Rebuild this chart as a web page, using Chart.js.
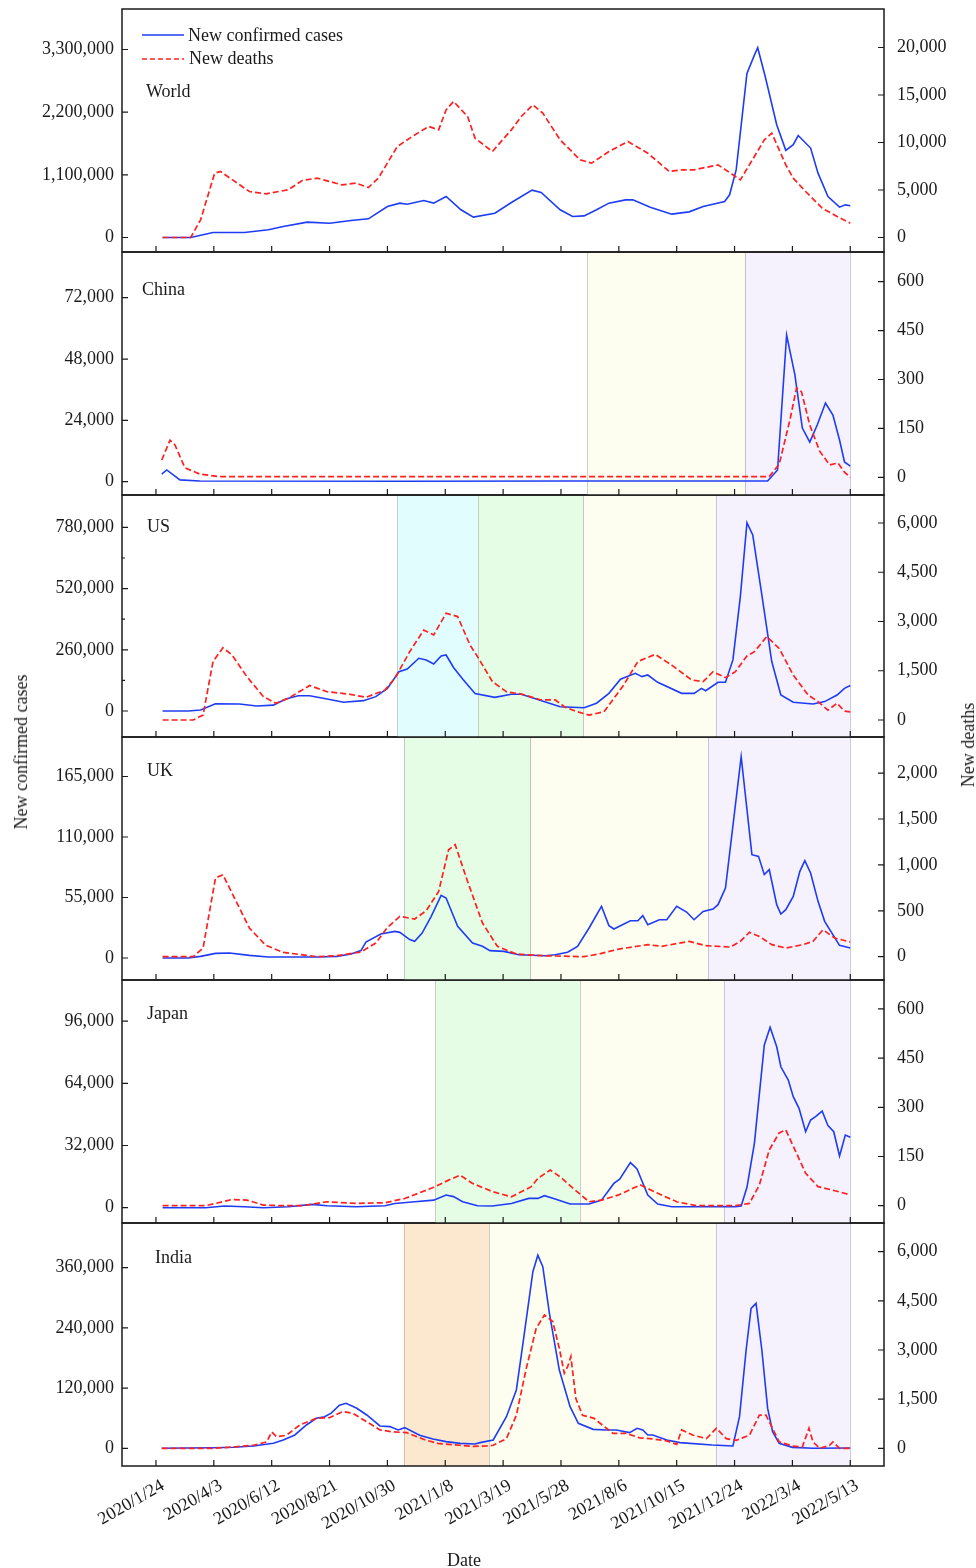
<!DOCTYPE html>
<html>
<head>
<meta charset="utf-8">
<script src="https://cdn.jsdelivr.net/npm/chart.js@4.4.0/dist/chart.umd.min.js"></script>
<style>
  body { margin: 0; background: #fff; width: 976px; height: 1568px; position: relative; overflow: hidden;
         font-family: 'Liberation Serif', 'Times New Roman', serif; }
  canvas { position: absolute; left: 0; }
  .lab { position: absolute; font-size: 18px; line-height: 18px; color: #1a1a1a; white-space: nowrap; }
</style>
</head>
<body>
<div class="lab" style="left:21px;top:752px;transform:translate(-50%,-50%) rotate(-90deg);">New confirmed cases</div>
<div class="lab" style="left:968px;top:745px;transform:translate(-50%,-50%) rotate(-90deg);">New deaths</div>
<div class="lab" style="left:447px;top:1551px;">Date</div>
<script>
// x axis: days since 2020/1/24
const xTickLabels = ['2020/1/24', '2020/4/3', '2020/6/12', '2020/8/21', '2020/10/30', '2021/1/8', '2021/3/19',
  '2021/5/28', '2021/8/6', '2021/10/15', '2021/12/24', '2022/3/4', '2022/5/13'];

// [day, value] weekly-ish points
const worldCases = [[8,0],[42,0],[69,88000],[107,88000],[136,135000],[154,193000],[183,270000],[210,250000],[236,298000],
  [257,328000],[280,544000],[295,603000],[304,585000],[324,650000],[336,603000],[351,720000],[369,486000],[384,357000],
  [410,427000],[430,614000],[455,831000],[466,790000],[489,486000],[504,369000],[518,380000],[533,486000],[548,603000],
  [568,661000],[577,661000],[598,532000],[624,410000],[645,450000],[662,544000],[688,632000],[694,749000],[702,1190000],
  [715,2880000],[724,3200000],[728,3330000],[737,2830000],[751,1980000],[762,1530000],[771,1630000],[777,1790000],
  [792,1570000],[801,1130000],[813,720000],[827,532000],[834,573000],[840,556000]];
const worldDeaths = [[8,0],[42,0],[54,1860],[71,6770],[78,6950],[113,4840],[133,4600],[160,5020],[177,6000],[195,6250],
  [225,5540],[242,5720],[257,5260],[269,6250],[292,9580],[310,10630],[330,11690],[342,11330],[351,13440],[360,14320],
  [377,12740],[386,10460],[407,9050],[430,11330],[442,12740],[456,13970],[468,13090],[489,10280],[513,8180],[527,7830],
  [548,9050],[571,10110],[595,8880],[621,6950],[636,7120],[651,7120],[680,7650],[698,6600],[707,6070],[724,8530],
  [736,10280],[745,10980],[762,7650],[771,6250],[786,4840],[806,3090],[824,2210],[840,1510]];

const chinaCases = [[7,3000],[13,4600],[29,700],[53,300],[300,200],[500,300],[740,300],[752,4600],[763,57400],[773,41800],
  [782,21000],[791,15500],[800,22200],[810,30800],[819,26100],[827,16300],[833,7700],[840,6100]];
const chinaDeaths = [[7,53],[17,114],[23,99],[35,29],[53,10],[77,2],[742,2],[754,40],[767,176],[775,274],[781,262],
  [791,160],[803,80],[815,38],[825,44],[833,16],[840,0]];

const usCases = [[8,0],[39,0],[54,4000],[72,31000],[101,30000],[122,21000],[142,25000],[157,51000],[172,65000],[186,65000],
  [207,51000],[227,37000],[251,44000],[266,61000],[280,96000],[294,167000],[304,178000],[318,224000],[327,217000],
  [336,200000],[345,234000],[351,238000],[360,185000],[371,136000],[386,74000],[410,58000],[430,71000],[442,71000],
  [460,51000],[489,18000],[518,14000],[533,33000],[548,75000],[562,135000],[580,160000],[588,146000],[595,153000],
  [607,122000],[636,75000],[651,75000],[660,96000],[665,86000],[680,122000],[689,122000],[698,217000],[707,486000],
  [715,800000],[722,748000],[733,493000],[745,210000],[756,68000],[771,37000],[795,30000],[809,40000],[824,68000],
  [833,96000],[840,108000]];
const usDeaths = [[8,0],[45,0],[57,150],[69,1780],[81,2200],[92,1980],[110,1320],[130,710],[145,510],[160,660],[186,1050],
  [207,860],[233,790],[254,690],[277,910],[289,1270],[307,2080],[324,2740],[336,2590],[351,3250],[365,3150],[380,2280],
  [389,1930],[407,1170],[424,860],[442,790],[466,610],[483,610],[495,390],[510,250],[524,150],[542,250],[566,1070],
  [583,1780],[604,2000],[624,1670],[648,1220],[662,1170],[674,1470],[689,1290],[701,1470],[715,1950],[724,2080],
  [739,2540],[754,2180],[771,1370],[789,760],[801,560],[813,300],[824,510],[833,270],[840,250]];

const ukCases = [[8,0],[39,0],[54,1500],[72,4200],[89,4500],[113,2400],[136,900],[195,900],[219,1500],[236,3600],[248,6700],
  [254,14500],[272,21800],[289,24200],[295,23300],[307,16700],[313,15200],[322,22700],[333,37900],[345,57000],[351,54500],
  [365,28800],[383,13600],[395,10600],[404,6700],[421,6000],[439,3000],[471,2100],[483,3000],[498,5200],[510,10600],
  [524,27300],[539,47000],[548,29400],[554,26400],[574,33900],[583,33900],[589,38500],[595,30300],[609,34800],[618,34800],
  [630,47000],[642,41800],[651,34800],[662,42400],[674,44500],[680,48500],[689,63600],[708,183000],[721,93900],[729,92400],
  [736,75800],[742,80300],[751,48500],[756,40000],[762,43900],[771,56000],[779,78800],[785,88500],[792,77300],[801,51500],
  [809,33300],[827,11500],[840,9100]];
const ukDeaths = [[8,0],[45,0],[57,94],[72,857],[81,893],[95,639],[113,312],[133,123],[154,47],[195,0],[219,11],[248,51],
  [266,149],[280,319],[295,439],[313,410],[327,501],[342,711],[354,1165],[362,1220],[377,820],[395,367],[413,113],[436,29],
  [466,11],[518,0],[536,29],[560,83],[595,131],[612,113],[645,167],[665,120],[695,105],[707,167],[718,265],[730,221],
  [745,131],[762,94],[783,131],[795,167],[807,294],[821,203],[840,160]];

const japanCases = [[8,0],[60,0],[83,860],[107,510],[130,0],[160,510],[189,1700],[207,1000],[242,500],[277,1000],[289,2200],
  [313,3100],[336,3900],[351,6500],[360,5700],[371,3100],[389,1000],[407,860],[430,2200],[451,4800],[462,4800],[470,6200],
  [483,4500],[501,1900],[524,1900],[539,3900],[554,12500],[561,14700],[574,23200],[582,19900],[595,6500],[607,1900],
  [624,510],[701,510],[708,860],[715,10500],[724,33100],[736,83700],[743,92800],[751,82800],[756,72500],[765,65700],
  [771,57100],[778,51100],[786,39100],[792,45100],[798,46800],[806,49700],[813,42200],[820,39100],[827,26600],[834,37400],
  [840,36200]];
const japanDeaths = [[8,0],[60,0],[72,7],[92,19],[110,17],[130,2],[154,0],[177,0],[207,12],[242,7],[277,9],[301,22],[336,56],
  [354,78],[368,93],[383,68],[407,43],[430,27],[454,58],[462,83],[477,109],[489,88],[507,48],[524,12],[539,17],[560,33],
  [577,53],[586,63],[607,38],[630,12],[654,0],[701,0],[718,7],[730,63],[742,170],[754,222],[762,231],[774,165],[786,99],
  [801,58],[818,48],[840,33]];

const indiaCases = [[7,0],[69,1000],[94,2000],[118,4600],[142,9900],[154,16600],[168,26600],[182,46500],[194,59800],
  [204,63000],[212,70000],[222,86000],[230,89700],[243,79700],[255,66400],[271,44500],[283,43200],[293,36500],[301,41200],
  [319,25900],[335,18600],[351,13300],[368,9900],[386,8600],[392,11300],[408,16600],[424,63000],[436,116000],[444,209000],
  [456,352000],[462,385000],[468,362000],[476,269000],[488,156000],[501,83000],[511,49800],[529,37800],[545,36500],
  [557,36500],[573,31200],[582,39900],[589,36500],[595,26600],[601,26600],[618,16600],[634,11300],[673,6600],[698,4600],
  [706,63000],[714,196000],[720,279000],[726,289000],[733,196000],[740,80000],[746,33200],[754,9900],[770,1900],[795,0],
  [840,700]];
const indiaDeaths = [[7,0],[69,0],[94,40],[118,93],[134,195],[140,500],[146,350],[158,400],[174,710],[194,915],[210,935],
  [226,1120],[238,1070],[255,810],[271,560],[287,500],[303,480],[327,245],[343,140],[368,93],[384,60],[400,70],[408,93],
  [424,295],[436,1010],[448,2440],[460,3660],[470,4070],[480,3870],[488,3050],[494,2290],[498,2490],[502,2800],[508,1520],
  [516,1010],[530,915],[540,710],[553,455],[569,455],[585,320],[601,285],[618,225],[630,120],[636,560],[650,400],[666,295],
  [678,610],[690,295],[702,245],[718,400],[730,1010],[738,1010],[746,610],[754,195],[770,70],[782,40],[790,610],[795,195],
  [803,0],[815,90],[819,195],[827,0],[840,0]];

// axis tick values
const worldCaseTicks = [0, 1100000, 2200000, 3300000];
const worldDeathTicks = [0, 5000, 10000, 15000, 20000];
const chinaCaseTicks = [0, 24000, 48000, 72000];
const chinaDeathTicks = [0, 150, 300, 450, 600];
const usCaseTicks = [0, 260000, 520000, 780000];
const usDeathTicks = [0, 1500, 3000, 4500, 6000];
const ukCaseTicks = [0, 55000, 110000, 165000];
const ukDeathTicks = [0, 500, 1000, 1500, 2000];
const japanCaseTicks = [0, 32000, 64000, 96000];
const japanDeathTicks = [0, 150, 300, 450, 600];
const indiaCaseTicks = [0, 120000, 240000, 360000];
const indiaDeathTicks = [0, 1500, 3000, 4500, 6000];

// shaded periods [start, end, colour key]
const chinaPeriods = [['2021/6/29', '2022/1/6', 'yellow'], ['2022/1/6', '2022/5/13', 'purple']];
const usPeriods = [['2020/11/11', '2021/2/16', 'cyan'], ['2021/2/16', '2021/6/24', 'green'],
  ['2021/6/24', '2021/12/1', 'yellow'], ['2021/12/1', '2022/5/13', 'purple']];
const ukPeriods = [['2020/11/19', '2021/4/21', 'green'], ['2021/4/21', '2021/11/22', 'yellow'], ['2021/11/22', '2022/5/13', 'purple']];
const japanPeriods = [['2020/12/27', '2021/6/20', 'green'], ['2021/6/20', '2021/12/11', 'yellow'], ['2021/12/11', '2022/5/13', 'purple']];
const indiaPeriods = [['2020/11/19', '2021/3/2', 'orange'], ['2021/3/2', '2021/12/1', 'yellow'], ['2021/12/1', '2022/5/13', 'purple']];

const periodColors = {
  cyan: 'rgb(226,253,253)', green: 'rgb(229,253,229)', yellow: 'rgb(253,253,240)',
  purple: 'rgb(245,241,253)', orange: 'rgb(252,231,207)'
};
const BLUE = '#1f3cf5', RED = '#ff2020', INK = '#1a1a1a';
const FONT = "'Liberation Serif', 'Times New Roman', serif";

function daysFrom(s) {
  const [y, m, d] = s.split('/').map(Number);
  return (Date.UTC(y, m - 1, d) - Date.UTC(2020, 0, 24)) / 86400000;
}

const panels = [
  { name: 'World', cases: worldCases, deaths: worldDeaths, lt: worldCaseTicks, rt: worldDeathTicks,
    lr: [-254500, 4010700], rr: [-1526, 24053], top: 9, bottom: 252, lx: 24, ly: 88, periods: [], legend: true },
  { name: 'China', cases: chinaCases, deaths: chinaDeaths, lt: chinaCaseTicks, rt: chinaDeathTicks,
    lr: [-5205, 89888], rr: [-54.3, 691], top: 252, bottom: 495, lx: 20, ly: 43, periods: chinaPeriods },
  { name: 'US', cases: usCases, deaths: usDeaths, lt: usCaseTicks, rt: usDeathTicks,
    lr: [-110458, 917647], rr: [-518, 6853], top: 495, bottom: 737, lx: 25, ly: 37, periods: usPeriods, minor: true },
  { name: 'UK', cases: ukCases, deaths: ukDeaths, lt: ukCaseTicks, rt: ukDeathTicks,
    lr: [-20000, 200909], rr: [-254, 2393], top: 737, bottom: 980, lx: 25, ly: 39, periods: ukPeriods },
  { name: 'Japan', cases: japanCases, deaths: japanDeaths, lt: japanCaseTicks, rt: japanDeathTicks,
    lr: [-7871, 117145], rr: [-52.7, 688], top: 980, bottom: 1223, lx: 25, ly: 39, periods: japanPeriods },
  { name: 'India', cases: indiaCases, deaths: indiaDeaths, lt: indiaCaseTicks, rt: indiaDeathTicks,
    lr: [-35282, 449103], rr: [-540, 6876], top: 1223, bottom: 1466, lx: 33, ly: 40, periods: indiaPeriods, last: true }
];

const panelDecor = {
  id: 'panelDecor',
  beforeDatasetsDraw(chart, args, o) {
    const { ctx, chartArea: a, scales: { x } } = chart;
    ctx.save();
    o.panel.periods.forEach(([s, e, key]) => {
      const x0 = x.getPixelForValue(daysFrom(s)), x1 = x.getPixelForValue(daysFrom(e));
      ctx.fillStyle = periodColors[key];
      ctx.fillRect(x0, a.top, x1 - x0, a.bottom - a.top);
      ctx.strokeStyle = 'rgba(120,120,120,0.35)';
      ctx.lineWidth = 1;
      [x0, x1].forEach(px => {
        ctx.beginPath();
        ctx.moveTo(Math.round(px) + 0.5, a.top);
        ctx.lineTo(Math.round(px) + 0.5, a.bottom);
        ctx.stroke();
      });
    });
    ctx.restore();
  },
  afterDraw(chart, args, o) {
    const { ctx, chartArea: a, scales: { x, y, y1 } } = chart;
    const p = o.panel;
    ctx.save();
    ctx.strokeStyle = INK;
    ctx.lineWidth = 1.5;
    ctx.strokeRect(a.left, a.top, a.right - a.left, a.bottom - a.top);

    // inward tick marks
    ctx.lineWidth = 1.2;
    ctx.beginPath();
    xTickLabels.forEach(l => {
      const px = x.getPixelForValue(daysFrom(l));
      ctx.moveTo(px, a.bottom); ctx.lineTo(px, a.bottom - 6);
    });
    p.lt.forEach(v => {
      const py = y.getPixelForValue(v);
      ctx.moveTo(a.left, py); ctx.lineTo(a.left + 6, py);
    });
    if (p.minor) {
      for (let i = 0; i < p.lt.length - 1; i++) {
        const py = y.getPixelForValue((p.lt[i] + p.lt[i + 1]) / 2);
        ctx.moveTo(a.left, py); ctx.lineTo(a.left + 3, py);
      }
    }
    p.rt.forEach(v => {
      const py = y1.getPixelForValue(v);
      ctx.moveTo(a.right, py); ctx.lineTo(a.right - 6, py);
    });
    ctx.stroke();

    // panel name
    ctx.fillStyle = INK;
    ctx.font = `18px ${FONT}`;
    ctx.textBaseline = 'alphabetic';
    ctx.fillText(p.name, a.left + p.lx, a.top + p.ly);

    if (p.legend) {
      const ds = chart.data.datasets;
      ctx.lineWidth = 1.6;
      ctx.strokeStyle = BLUE;
      ctx.beginPath(); ctx.moveTo(a.left + 20, a.top + 26); ctx.lineTo(a.left + 62, a.top + 26); ctx.stroke();
      ctx.fillText(ds[0].label, a.left + 66, a.top + 32);
      ctx.strokeStyle = RED;
      ctx.setLineDash([5, 3]);
      ctx.beginPath(); ctx.moveTo(a.left + 20, a.top + 50); ctx.lineTo(a.left + 62, a.top + 50); ctx.stroke();
      ctx.setLineDash([]);
      ctx.fillText(ds[1].label, a.left + 67, a.top + 55);
    }
    ctx.restore();
  }
};

// keep the plot frame exactly where the reference has it
function noPad(s) {
  s.paddingTop = 0; s.paddingBottom = 0; s.paddingLeft = 0; s.paddingRight = 0;
}

panels.forEach(p => {
  const padTop = 4;
  const canvasTop = p.top - padTop;
  const height = p.last ? 1568 - canvasTop : (p.bottom - p.top) + 8;
  const cv = document.createElement('canvas');
  cv.width = 976;
  cv.height = height;
  cv.style.top = canvasTop + 'px';
  cv.style.width = '976px';
  cv.style.height = height + 'px';
  document.body.insertBefore(cv, document.body.firstChild);

  const tickFont = { family: FONT, size: 18 };
  new Chart(cv.getContext('2d'), {
    type: 'line',
    data: {
      datasets: [
        { label: 'New confirmed cases', data: p.cases.map(([d, v]) => ({ x: d, y: v })), yAxisID: 'y',
          borderColor: BLUE, borderWidth: 1.6, pointRadius: 0, tension: 0, order: 1 },
        { label: 'New deaths', data: p.deaths.map(([d, v]) => ({ x: d, y: v })), yAxisID: 'y1',
          borderColor: RED, borderWidth: 1.7, borderDash: [6, 3], pointRadius: 0, tension: 0, order: 0 }
      ]
    },
    options: {
      responsive: false,
      animation: false,
      devicePixelRatio: 1,
      layout: { padding: { top: padTop, bottom: p.last ? 0 : 4, left: 0, right: 0 } },
      plugins: { legend: { display: false }, tooltip: { enabled: false }, panelDecor: { panel: p } },
      scales: {
        x: {
          type: 'linear', min: -41.1, max: 880.8, display: !!p.last,
          afterBuildTicks: s => { s.ticks = xTickLabels.map(l => ({ value: daysFrom(l) })); },
          afterFit: s => { noPad(s); if (p.last) s.height = height - padTop - (p.bottom - p.top); },
          ticks: { callback: (v, i) => xTickLabels[i], font: tickFont, color: INK, minRotation: 30, maxRotation: 30,
                   autoSkip: false, padding: 9, labelOffset: 7 },
          grid: { display: false, drawTicks: false }, border: { display: false }
        },
        y: {
          position: 'left', min: p.lr[0], max: p.lr[1],
          afterBuildTicks: s => { s.ticks = p.lt.map(v => ({ value: v })); },
          afterFit: s => { noPad(s); s.width = 122; },
          ticks: { callback: v => v.toLocaleString('en-US'), font: tickFont, color: INK, padding: 8 },
          grid: { display: false, drawTicks: false }, border: { display: false }
        },
        y1: {
          position: 'right', min: p.rr[0], max: p.rr[1],
          afterBuildTicks: s => { s.ticks = p.rt.map(v => ({ value: v })); },
          afterFit: s => { noPad(s); s.width = 92; },
          ticks: { callback: v => v.toLocaleString('en-US'), font: tickFont, color: INK, padding: 13 },
          grid: { display: false, drawTicks: false }, border: { display: false }
        }
      }
    },
    plugins: [panelDecor]
  });
});
</script>
</body>
</html>
